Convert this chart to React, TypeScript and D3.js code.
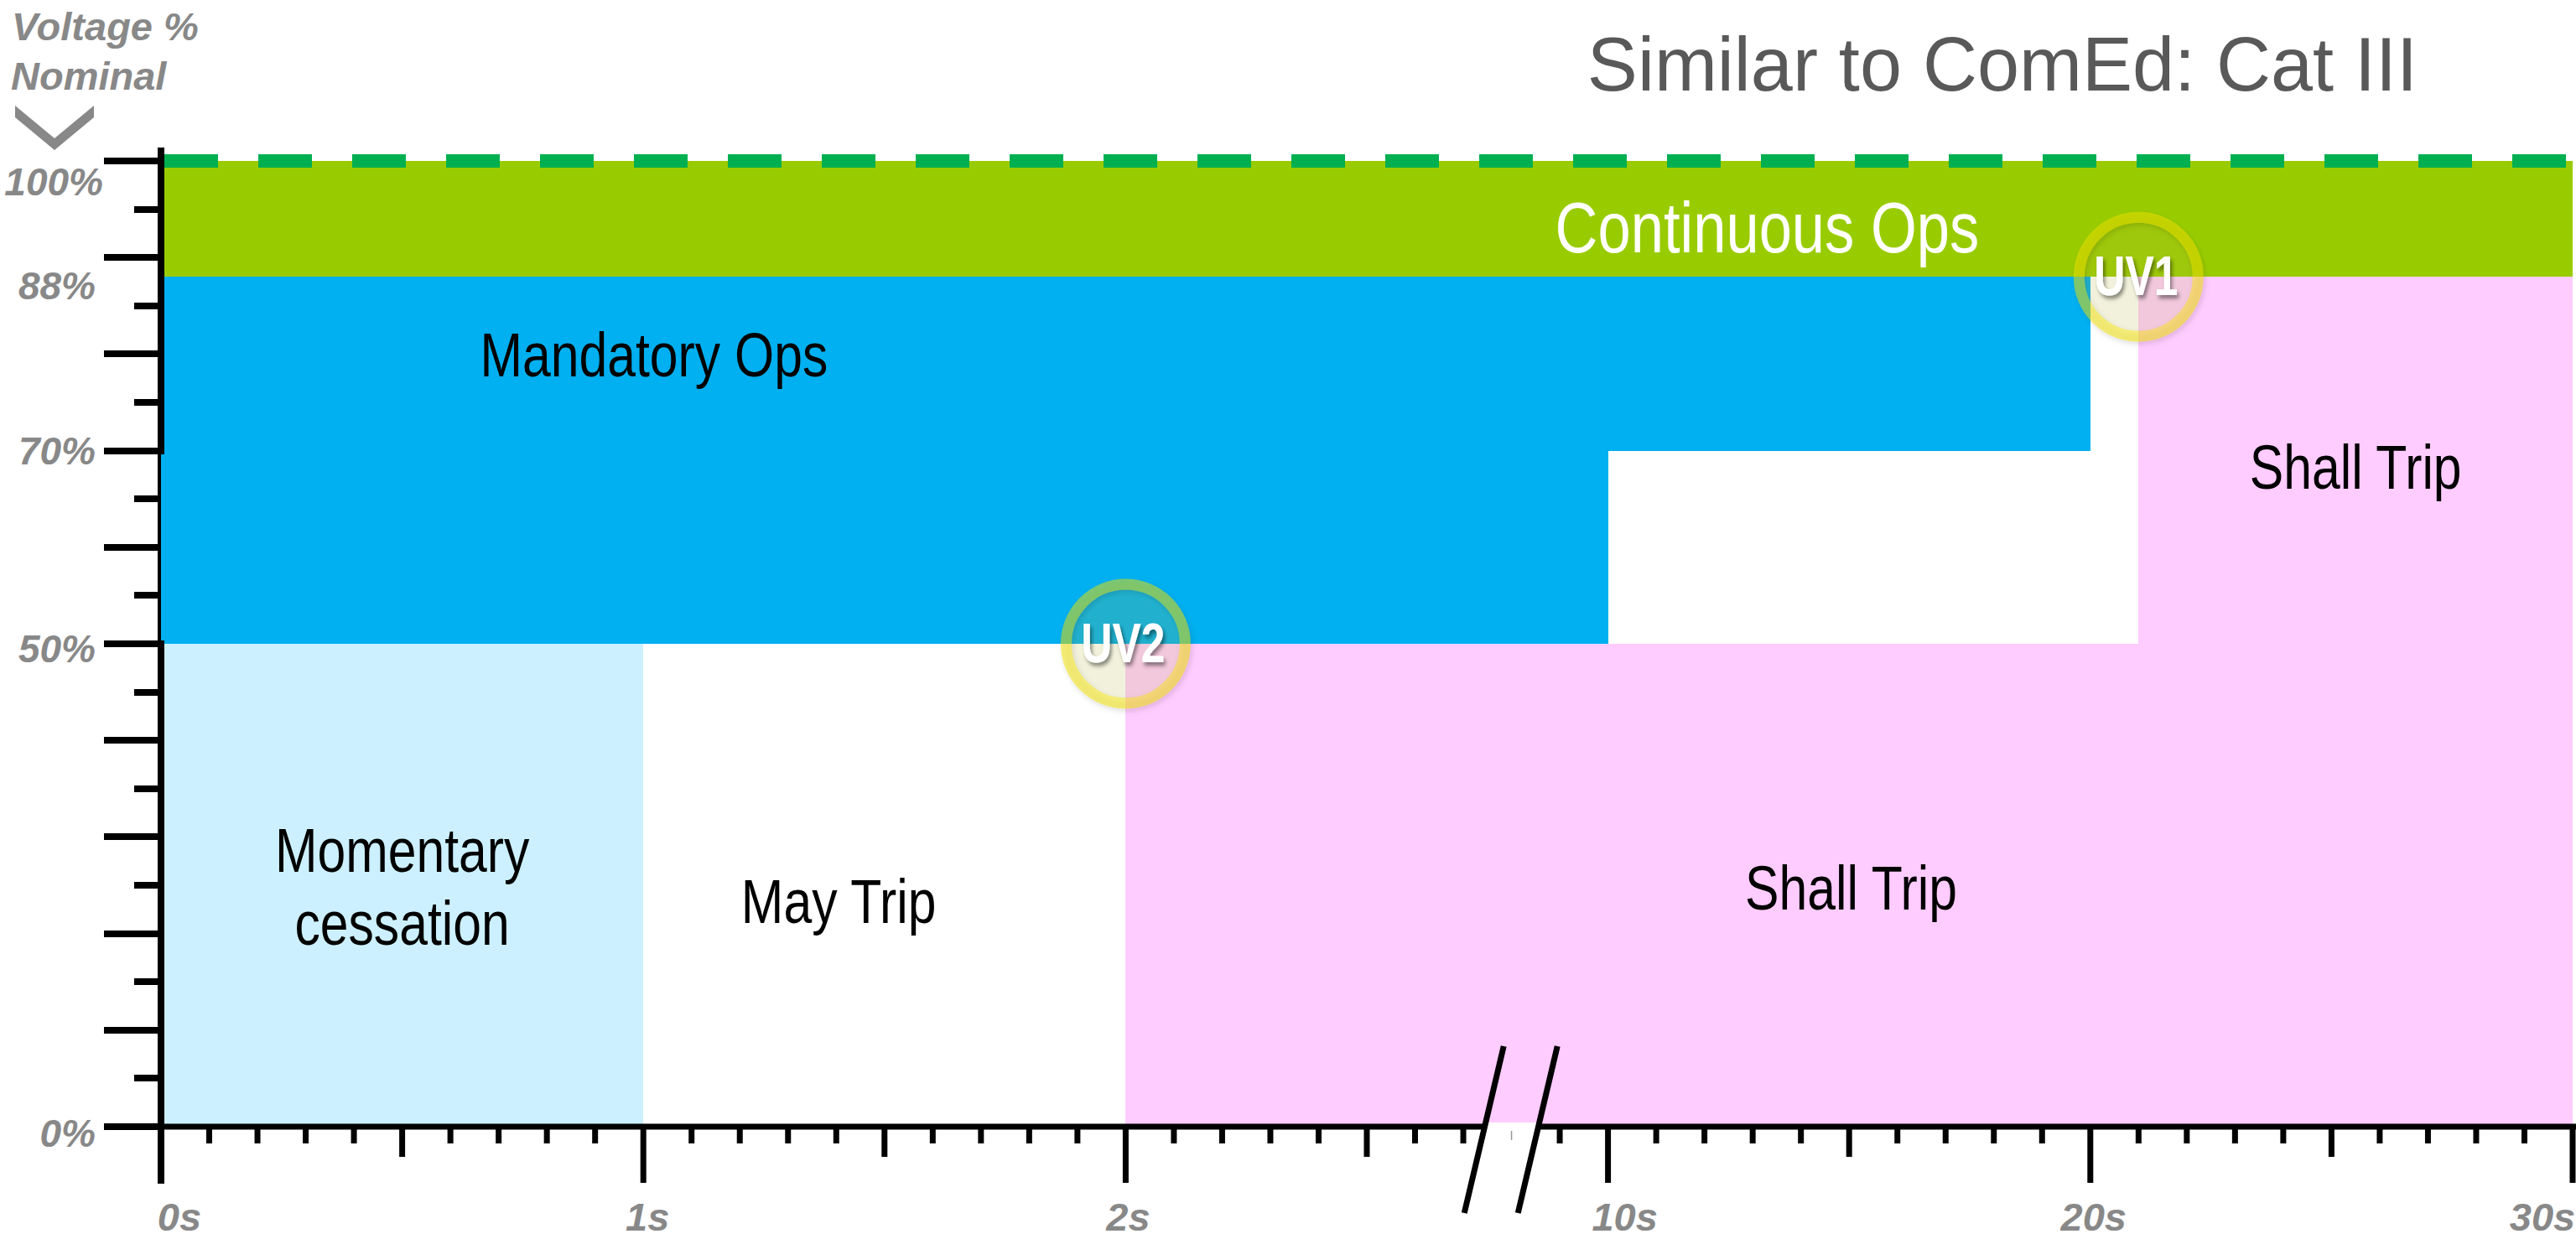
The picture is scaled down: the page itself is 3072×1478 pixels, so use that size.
import React from "react";
import * as d3 from "d3";

// ---------------- data ----------------
// time axis break points (seconds); each interval gets the same axis width
const timeBreaks = [0, 1, 2, 10, 20, 30];
const timeTickLabels = ["0s", "1s", "2s", "10s", "20s", "30s"];
const axisBreakAt = 8.4; // seconds, where the "//" break sits

// voltage axis (% nominal)
const voltageTicks = d3.range(0, 101, 5);
const voltageTickLabels = [100, 88, 70, 50, 0];

// regions
const regionIds = ["cont", "mandHigh", "mandLow", "momentary", "mayTrip", "shallLow", "shallHigh"];
const regionT0 = [0, 0, 0, 0, 1, 2, 21];
const regionT1 = [30, 20, 10, 1, 2, 30, 30];
const regionV0 = [88, 70, 50, 0, 0, 0, 50];
const regionV1 = [100, 88, 70, 50, 50, 50, 88];

// region labels (positions in data units: seconds / % nominal, baseline)
const labelTexts = [["Continuous Ops"], ["Mandatory Ops"], ["Shall Trip"], ["Momentary", "cessation"], ["May Trip"], ["Shall Trip"]];
const labelT = [13.3, 1.022, 25.5, 0.5, 1.405, 15.04];
const labelV = [90.5, 77.7, 66.1, 26.4, 21.1, 22.5];

// ride-through points
const uvNames = ["UV1", "UV2"];
const uvT = [21, 2];
const uvV = [88, 50];

const nominalLine = 100;
const titleText = "Similar to ComEd: Cat III";

// ---------------- styles ----------------
const W = 3072;
const H = 1478;
const FONT = "'Liberation Sans', Arial, Helvetica, sans-serif";
const regionFill: Record<string, string> = {
  cont: "#99CC00",
  mandHigh: "#00B0F0",
  mandLow: "#00B0F0",
  momentary: "#CCF0FF",
  mayTrip: "#FFFFFF",
  shallLow: "#FFCCFF",
  shallHigh: "#FFCCFF",
};
const labelColor = ["#FFFFFF", "#000000", "#000000", "#000000", "#000000", "#000000"];
const labelSize = [86, 74, 74, 74, 74, 74];
const AXIS_GRAY = "#888888";

export default function App() {
  const x0 = 192;
  const seg = 575.2;
  const x = d3
    .scaleLinear()
    .domain(timeBreaks)
    .range(timeBreaks.map((_, i) => x0 + i * seg));
  const y = d3.scaleLinear().domain([0, 100]).range([1344, 192]);

  const axisY = y(0);
  const axisX = x(0);

  // x ticks: ten per interval, half-way tick medium
  const xTicks: { t: number; kind: string }[] = [];
  for (let s = 0; s < timeBreaks.length - 1; s++) {
    const a = timeBreaks[s];
    const b = timeBreaks[s + 1];
    for (let k = 0; k < 10; k++) {
      xTicks.push({ t: a + ((b - a) * k) / 10, kind: k === 0 ? "major" : k === 5 ? "mid" : "minor" });
    }
  }
  xTicks.push({ t: timeBreaks[timeBreaks.length - 1], kind: "major" });
  const tickLen: Record<string, number> = { major: 67, mid: 36, minor: 20 };

  const xLabelDx = [22, 5, 3, 20, 4, -36];
  const yLabelDx = [9, 0, 0, 0, 0];
  const yLabelDy = [41, 27, 16, 22, 24];

  const bx = x(axisBreakAt);
  const slope = 0.236; // dx per dy
  const lineAt = (off: number, yy: number) => bx + off - (yy - axisY) * slope;
  const breakTop = axisY - 96;
  const breakBot = axisY + 103;

  const regions = regionIds.map((id, i) => ({
    id,
    x: Math.round(x(regionT0[i])),
    w: Math.round(x(regionT1[i])) - Math.round(x(regionT0[i])),
    y: Math.round(y(regionV1[i])),
    h: Math.round(y(regionV0[i])) - Math.round(y(regionV1[i])),
  }));

  return (
    <svg
      width={W}
      height={H}
      viewBox={`0 0 ${W} ${H}`}
      style={{ position: "fixed", left: 0, top: 0, background: "#fff" }}
      fontFamily={FONT}
    >
      <defs>
        <filter id="ringShadow" x="-30%" y="-30%" width="160%" height="160%">
          <feDropShadow dx="2" dy="3" stdDeviation="3" floodColor="#000" floodOpacity="0.25" />
        </filter>
        <filter id="textShadow" x="-20%" y="-20%" width="140%" height="160%">
          <feDropShadow dx="3" dy="4" stdDeviation="2.5" floodColor="#000" floodOpacity="0.45" />
        </filter>
      </defs>
      <rect x={0} y={0} width={W} height={H} fill="#fff" />

      {/* regions */}
      {regions.map((r) => (
        <rect
          key={r.id}
          x={r.x}
          y={r.y}
          width={r.w}
          height={r.h}
          fill={regionFill[r.id]}
          shapeRendering="crispEdges"
        />
      ))}

      {/* nominal dashed line */}
      <line
        x1={axisX + 4}
        x2={W}
        y1={y(nominalLine)}
        y2={y(nominalLine)}
        stroke="#00B050"
        strokeWidth={16}
        strokeDasharray="64 48"
        shapeRendering="crispEdges"
      />

      {/* y axis */}
      <line x1={axisX} x2={axisX} y1={176} y2={1412} stroke="#000" strokeWidth={8} shapeRendering="crispEdges" />
      {voltageTicks.map((v) => {
        const len = v % 10 === 0 ? 68 : 32;
        return (
          <line
            key={"yt" + v}
            x1={axisX - len}
            x2={axisX - 4}
            y1={y(v)}
            y2={y(v)}
            stroke="#000"
            strokeWidth={8}
            shapeRendering="crispEdges"
          />
        );
      })}
      {/* lower mandatory block overlaps axis slightly */}
      {regions
        .filter((r) => r.id === "mandLow")
        .map((r) => (
          <rect key="mlo" x={r.x} y={r.y + 4} width={8} height={r.h - 8} fill={regionFill[r.id]} shapeRendering="crispEdges" />
        ))}

      {/* x axis */}
      <line x1={axisX - 4} x2={W} y1={axisY} y2={axisY} stroke="#000" strokeWidth={7} />
      {xTicks.map((tk, i) => {
        const isBreak = Math.abs(tk.t - axisBreakAt) < 1e-6;
        return (
          <line
            key={"xt" + i}
            x1={x(tk.t)}
            x2={x(tk.t)}
            y1={axisY}
            y2={axisY + (isBreak ? 16 : tickLen[tk.kind])}
            stroke={isBreak ? "#999" : "#000"}
            strokeWidth={isBreak ? 1.5 : 7}
          />
        );
      })}

      {/* axis break */}
      <polygon
        points={[
          [lineAt(-32, axisY - 5), axisY - 5],
          [lineAt(32, axisY - 5), axisY - 5],
          [lineAt(32, axisY + 5), axisY + 5],
          [lineAt(-32, axisY + 5), axisY + 5],
        ]
          .map((p) => p.join(","))
          .join(" ")}
        fill="#fff"
      />
      {[-32, 32].map((off) => (
        <line
          key={"br" + off}
          x1={lineAt(off, breakTop)}
          y1={breakTop}
          x2={lineAt(off, breakBot)}
          y2={breakBot}
          stroke="#000"
          strokeWidth={7}
        />
      ))}

      {/* y tick labels */}
      {voltageTickLabels.map((v, i) => (
        <text
          key={"yl" + v}
          x={114 + yLabelDx[i]}
          y={y(v) + yLabelDy[i]}
          textAnchor="end"
          fontSize={46}
          fontWeight="bold"
          fontStyle="italic"
          fill={AXIS_GRAY}
        >
          {v + "%"}
        </text>
      ))}

      {/* x tick labels */}
      {timeBreaks.map((t, i) => (
        <text
          key={"xl" + t}
          x={x(t) + xLabelDx[i]}
          y={1468}
          textAnchor="middle"
          fontSize={47}
          fontWeight="bold"
          fontStyle="italic"
          fill={AXIS_GRAY}
        >
          {timeTickLabels[i]}
        </text>
      ))}

      {/* axis title */}
      <text x={14} y={48} fontSize={47} fontWeight="bold" fontStyle="italic" fill={AXIS_GRAY}>
        Voltage %
      </text>
      <text x={13} y={107} fontSize={47} fontWeight="bold" fontStyle="italic" fill={AXIS_GRAY}>
        Nominal
      </text>
      <polygon points="18,126 65,165 112,126 112,140 65,179 18,140" fill={AXIS_GRAY} />

      {/* chart title */}
      <text x={2388} y={108} textAnchor="middle" fontSize={90} fill="#595959">
        {titleText}
      </text>

      {/* region labels */}
      {labelTexts.map((lines, i) => (
        <g key={"lab" + i} transform={`translate(${x(labelT[i])},${y(labelV[i])}) scale(0.82,1)`}>
          {lines.map((ln, j) => (
            <text key={j} x={0} y={j * 87} textAnchor="middle" fontSize={labelSize[i]} fill={labelColor[i]}>
              {ln}
            </text>
          ))}
        </g>
      ))}

      {/* UV markers */}
      {uvNames.map((nm, i) => {
        const cx = x(uvT[i]);
        const cy = y(uvV[i]);
        return (
          <g key={nm}>
            <circle cx={cx} cy={cy} r={65} fill="rgb(183,183,60)" fillOpacity={0.18} />
            <circle
              cx={cx}
              cy={cy}
              r={71}
              fill="none"
              stroke="#F0E000"
              strokeOpacity={0.5}
              strokeWidth={13}
              filter="url(#ringShadow)"
            />
            <g transform={`translate(${cx - 3},${cy + 22}) scale(0.78,1)`}>
              <text
                x={0}
                y={0}
                textAnchor="middle"
                fontSize={66}
                fontWeight="bold"
                fill="#FFFFFF"
                filter="url(#textShadow)"
              >
                {nm}
              </text>
            </g>
          </g>
        );
      })}
    </svg>
  );
}
